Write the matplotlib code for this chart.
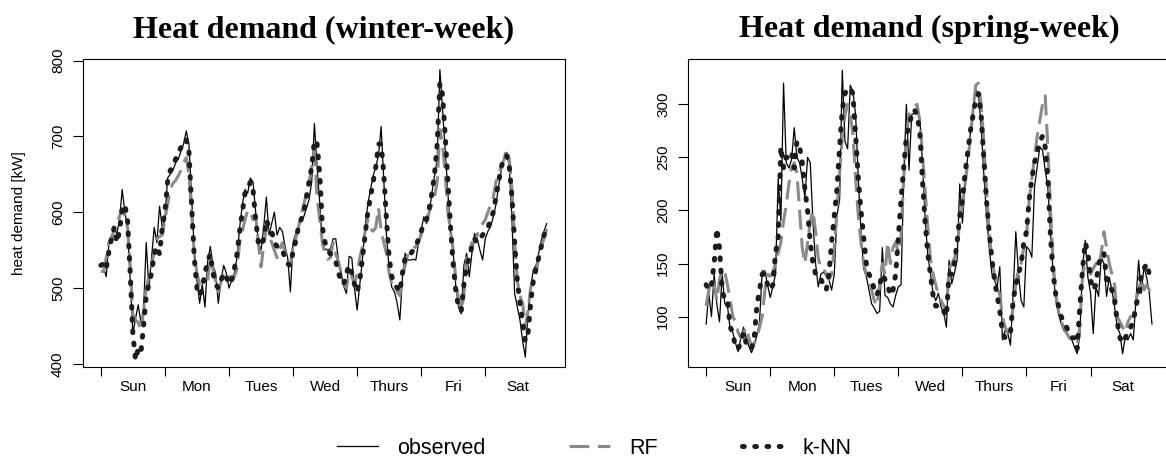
import matplotlib
matplotlib.use('Agg')
import matplotlib.pyplot as plt
import numpy as np
from matplotlib.lines import Line2D

plt.rcParams['font.family'] = ['Liberation Sans', 'DejaVu Sans']

days = ['Sun', 'Mon', 'Tues', 'Wed', 'Thurs', 'Fri', 'Sat']

# hourly values, one week (168 h)
winter_obs = [
    530, 528, 515, 558, 562, 578, 572, 590, 630, 600, 580, 510, 440, 460, 478, 455, 470, 560, 500, 540, 580, 560, 608, 580,
    590, 645, 650, 655, 665, 670, 680, 690, 707, 690, 620, 550, 510, 480, 505, 475, 535, 555, 530, 520, 480, 510, 530, 520,
    500, 510, 520, 540, 580, 610, 630, 625, 645, 640, 600, 560, 550, 580, 620, 570, 585, 600, 570, 580, 575, 555, 540, 495,
    560, 572, 581, 590, 594, 605, 617, 640, 717, 660, 612, 555, 552, 550, 552, 565, 565, 538, 520, 502, 493, 542, 540, 500,
    471, 505, 538, 581, 610, 630, 648, 660, 675, 713, 640, 570, 524, 501, 495, 480, 458, 515, 546, 537, 537, 538, 537, 560,
    577, 594, 585, 599, 625, 648, 670, 788, 735, 682, 625, 575, 546, 501, 475, 466, 530, 546, 515, 546, 572, 565, 550, 537,
    565, 575, 581, 594, 610, 634, 655, 670, 679, 660, 590, 493, 475, 458, 430, 409, 466, 501, 524, 530, 546, 563, 575, 585]
winter_rf = [
    522, 522, 540, 560, 568, 575, 585, 595, 605, 595, 580, 530, 465, 458, 455, 445, 470, 500, 515, 530, 548, 565, 568, 570,
    590, 610, 630, 638, 642, 648, 655, 665, 672, 650, 600, 545, 520, 505, 505, 508, 510, 540, 525, 510, 495, 508, 520, 520,
    520, 510, 515, 525, 560, 575, 590, 603, 600, 590, 595, 560, 528, 555, 580, 570, 560, 550, 540, 550, 560, 548, 540, 530,
    555, 565, 580, 595, 610, 625, 640, 660, 680, 620, 590, 560, 545, 538, 540, 560, 545, 535, 520, 505, 500, 520, 515, 505,
    520, 540, 555, 575, 590, 578, 575, 580, 606, 575, 560, 545, 520, 505, 500, 495, 490, 515, 530, 545, 550, 552, 555, 560,
    570, 580, 590, 600, 610, 620, 640, 709, 690, 650, 600, 575, 550, 510, 485, 470, 490, 540, 550, 560, 560, 570, 580, 585,
    590, 600, 610, 620, 640, 650, 660, 670, 683, 670, 630, 560, 510, 490, 480, 449, 470, 500, 510, 520, 540, 555, 565, 578]
winter_knn = [
    530, 532, 525, 548, 565, 580, 560, 575, 605, 610, 590, 520, 440, 405, 420, 415, 450, 490, 505, 520, 545, 555, 545, 580,
    600, 640, 655, 660, 670, 680, 685, 695, 695, 680, 610, 540, 500, 490, 500, 520, 535, 545, 520, 505, 500, 510, 520, 515,
    505, 510, 525, 545, 575, 600, 625, 630, 640, 630, 590, 560, 555, 565, 590, 580, 575, 560, 555, 555, 550, 540, 532, 530,
    548, 562, 580, 590, 600, 620, 640, 660, 695, 690, 650, 580, 560, 550, 545, 540, 535, 520, 510, 505, 520, 530, 520, 505,
    495, 510, 540, 570, 600, 620, 640, 660, 690, 690, 650, 590, 540, 515, 505, 500, 495, 520, 540, 545, 545, 550, 555, 565,
    575, 585, 590, 605, 625, 650, 690, 770, 755, 700, 640, 580, 530, 495, 475, 470, 505, 530, 540, 555, 565, 560, 565, 570,
    575, 580, 590, 600, 620, 640, 660, 670, 675, 660, 620, 560, 510, 480, 455, 430, 440, 480, 510, 525, 540, 555, 570, 578]

spring_obs = [
    93, 122, 100, 140, 112, 95, 140, 112, 110, 88, 85, 75, 67, 80, 90, 80, 72, 66, 73, 82, 95, 143, 143, 130,
    118, 128, 140, 230, 190, 320, 245, 240, 248, 278, 250, 245, 230, 212, 250, 245, 190, 150, 128, 140, 142, 138, 135, 125,
    140, 195, 210, 332, 265, 258, 318, 312, 290, 230, 180, 145, 138, 125, 112, 108, 103, 105, 165, 120, 118, 112, 109, 120,
    128, 130, 230, 300, 238, 290, 292, 297, 288, 247, 194, 159, 141, 122, 115, 122, 109, 103, 90, 153, 131, 141, 153, 225,
    188, 225, 251, 273, 295, 314, 310, 279, 235, 197, 166, 141, 134, 128, 147, 78, 87, 84, 73, 122, 180, 141, 115, 109,
    166, 163, 156, 222, 241, 260, 257, 238, 222, 178, 141, 115, 103, 93, 87, 84, 81, 78, 71, 65, 84, 147, 172, 137,
    122, 84, 128, 119, 156, 150, 119, 137, 125, 109, 90, 84, 65, 81, 78, 84, 78, 115, 153, 122, 147, 137, 122, 93]
spring_rf = [
    110, 125, 135, 130, 115, 135, 144, 142, 130, 115, 100, 95, 85, 80, 85, 90, 80, 72, 75, 80, 90, 100, 125, 140,
    138, 142, 150, 160, 170, 190, 205, 225, 240, 245, 235, 200, 165, 150, 170, 190, 200, 180, 155, 145, 145, 140, 135, 140,
    165, 200, 235, 270, 290, 300, 290, 272, 230, 195, 170, 150, 140, 135, 125, 115, 110, 130, 150, 140, 170, 150, 165, 170,
    160, 175, 230, 270, 290, 295, 298, 300, 285, 255, 220, 185, 155, 140, 130, 120, 115, 110, 105, 145, 150, 155, 165, 190,
    205, 225, 245, 270, 295, 318, 320, 300, 265, 220, 180, 155, 140, 130, 120, 100, 90, 85, 88, 110, 130, 145, 150, 165,
    175, 210, 230, 250, 270, 285, 300, 308, 260, 200, 150, 120, 105, 95, 90, 85, 80, 78, 75, 75, 90, 140, 150, 145,
    140, 145, 150, 145, 160, 180, 165, 150, 140, 130, 100, 95, 90, 85, 95, 100, 100, 115, 125, 135, 125, 130, 125, 120]
spring_knn = [
    130, 125, 130, 150, 183, 165, 125, 115, 115, 90, 85, 70, 70, 75, 85, 75, 70, 70, 80, 110, 125, 140, 140, 130,
    125, 130, 160, 175, 260, 240, 250, 250, 255, 240, 265, 260, 245, 220, 200, 170, 150, 140, 135, 135, 130, 125, 140, 170,
    195, 220, 260, 295, 310, 315, 315, 310, 270, 230, 200, 175, 150, 140, 135, 125, 120, 130, 140, 135, 130, 120, 125, 140,
    175, 210, 240, 270, 280, 290, 295, 290, 275, 230, 190, 160, 140, 120, 110, 110, 105, 105, 100, 140, 140, 150, 170, 195,
    210, 235, 255, 275, 290, 305, 310, 290, 250, 210, 180, 155, 135, 120, 105, 85, 80, 80, 85, 115, 130, 140, 150, 170,
    180, 210, 230, 245, 255, 265, 270, 260, 230, 175, 140, 120, 110, 100, 95, 90, 85, 80, 80, 70, 110, 145, 170, 160,
    135, 125, 130, 150, 155, 160, 135, 130, 125, 115, 95, 80, 75, 80, 85, 90, 95, 110, 120, 140, 145, 150, 140, 140]

panels = [
    ('Heat demand (winter-week)', winter_obs, winter_rf, winter_knn, (396, 802), [400, 500, 600, 700, 800]),
    ('Heat demand (spring-week)', spring_obs, spring_rf, spring_knn, (52.5, 342.7), [100, 150, 200, 250, 300]),
]

obs_style = dict(color='black', lw=0.9)
rf_style = dict(color='#8a8a8a', lw=2.2, dashes=(6.5, 2.8))
knn_style = dict(color='#1c1c1c', lw=3.6, dashes=(0.35, 2.1), dash_capstyle='round')

fig = plt.figure(figsize=(11.66, 4.61), dpi=100)
W, H = 1166, 461
ax_w = 481.5 / W
ax_h = 308 / H
bottom = 1 - 367 / H
lefts = [83 / W, 688.3 / W]

hours = np.arange(168)
for i, (title, obs, rf, knn, ylim, yt) in enumerate(panels):
    ax = fig.add_axes([lefts[i], bottom, ax_w, ax_h])
    ax.plot(hours, obs, **obs_style)
    ax.plot(hours, rf, **rf_style)
    ax.plot(hours, knn, **knn_style)

    ax.set_xlim(-6.68, 173.68)
    ax.set_ylim(*ylim)
    ax.set_xticks(np.arange(0, 168, 24))
    ax.set_xticklabels([])
    ax.set_xticks(np.arange(12, 168, 24), minor=True)
    ax.set_xticklabels(days, minor=True)
    ax.tick_params(axis='x', which='major', length=6.5, width=0.8, direction='out')
    ax.tick_params(axis='x', which='minor', length=0, pad=9.5, labelsize=11)
    ax.set_yticks(yt)
    ax.tick_params(axis='y', length=7, width=0.8, pad=6, labelsize=11)
    for lab in ax.get_yticklabels():
        lab.set_rotation(90)
        lab.set_va('center')
    for sp in ax.spines.values():
        sp.set_linewidth(0.8)
    ax.set_title(title, fontfamily='Liberation Serif', fontweight='bold', fontsize=23, pad=16)
    if i == 0:
        ax.set_ylabel('heat demand [kW]', fontsize=11)
        ax.yaxis.set_label_coords(-0.118, 0.5)

handles = [Line2D([], [], **obs_style), Line2D([], [], **rf_style), Line2D([], [], **knn_style)]
fig.legend(handles, ['observed', 'RF', 'k-NN'], loc='center', bbox_to_anchor=(594 / W, 1 - 448 / H),
           ncol=3, frameon=False, fontsize=15.5, handlelength=1.9, handletextpad=0.9,
           columnspacing=3.9, borderpad=0)

plt.savefig('out.png', dpi=100)
